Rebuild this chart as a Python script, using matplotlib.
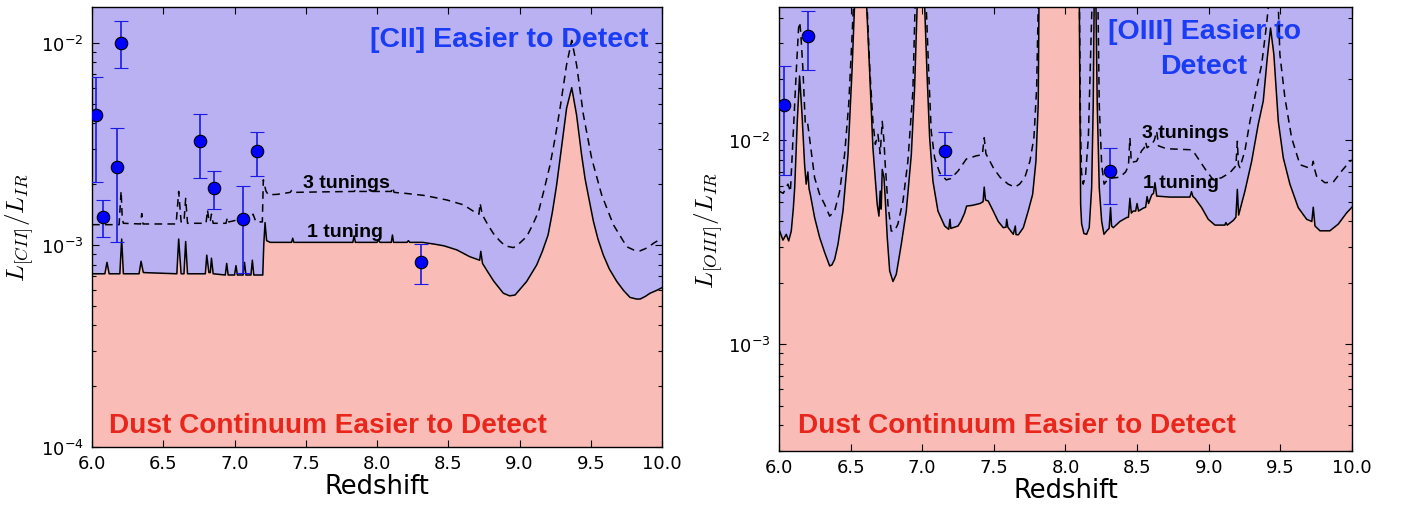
#=========================================================================
# plot.py
#=========================================================================
# Line-to-continuum detectability for [CII] and [OIII] vs redshift.

import matplotlib
matplotlib.use('Agg')
import matplotlib.pyplot as plt
import matplotlib.ticker as ticker
import numpy as np

#-------------------------------------------------------------------------
# Data: [CII]
#-------------------------------------------------------------------------

cii_z1 = [6.00, 6.09, 6.105, 6.12, 6.195, 6.208, 6.22, 6.33, 6.344, 6.36,
          6.595, 6.608, 6.625, 6.645, 6.657, 6.67, 6.795, 6.805, 6.82, 6.83,
          6.838, 6.85, 6.935, 6.945, 6.955, 7.00, 7.01, 7.02, 7.06, 7.07,
          7.08, 7.115, 7.125, 7.135, 7.198, 7.205, 7.214, 7.225, 7.25, 7.40,
          7.408, 7.416, 7.83, 7.839, 7.848, 8.00, 8.01, 8.02, 8.10, 8.108,
          8.116, 8.21, 8.22, 8.23, 8.32, 8.40, 8.47, 8.56, 8.65, 8.70,
          8.72, 8.728, 8.74, 8.78, 8.82, 8.886, 8.93, 8.968, 9.00, 9.05,
          9.12, 9.16, 9.20, 9.23, 9.26, 9.296, 9.33, 9.366, 9.40, 9.435,
          9.46, 9.49, 9.518, 9.55, 9.588, 9.63, 9.682, 9.73, 9.775, 9.82,
          9.846, 9.88, 9.916, 9.96, 10.0]
cii_1tuning = [7.2e-4, 7.2e-4, 8.2e-4, 7.2e-4, 7.2e-4, 1.07e-3, 7.2e-4, 7.2e-4, 8.3e-4, 7.3e-4,
               7.2e-4, 1.07e-3, 7.2e-4, 7.2e-4, 1.04e-3, 7.2e-4, 7.2e-4, 8.9e-4, 7.3e-4, 7.3e-4,
               8.6e-4, 7.2e-4, 7.1e-4, 8.1e-4, 7.1e-4, 7.1e-4, 7.9e-4, 7.1e-4, 7.1e-4, 8.2e-4,
               7.1e-4, 7.1e-4, 8.4e-4, 7.1e-4, 7.1e-4, 1.0e-3, 1.29e-3, 1.05e-3, 1.03e-3, 1.03e-3,
               1.08e-3, 1.03e-3, 1.03e-3, 1.11e-3, 1.03e-3, 1.03e-3, 1.06e-3, 1.03e-3, 1.03e-3, 1.12e-3,
               1.03e-3, 1.03e-3, 1.05e-3, 1.03e-3, 1.03e-3, 1.01e-3, 9.9e-4, 9.45e-4, 8.75e-4, 8.5e-4,
               8.4e-4, 9.3e-4, 8.1e-4, 7.3e-4, 6.6e-4, 5.77e-4, 5.6e-4, 5.65e-4, 6.0e-4, 6.6e-4,
               7.96e-4, 9.3e-4, 1.12e-3, 1.45e-3, 1.98e-3, 3.1e-3, 4.75e-3, 6.0e-3, 4.4e-3, 2.8e-3,
               2.12e-3, 1.65e-3, 1.31e-3, 1.07e-3, 8.9e-4, 7.6e-4, 6.6e-4, 5.95e-4, 5.5e-4, 5.4e-4,
               5.4e-4, 5.55e-4, 5.77e-4, 5.95e-4, 6.15e-4]

cii_z3 = [6.00, 6.19, 6.204, 6.212, 6.22, 6.34, 6.349, 6.358, 6.59, 6.608,
          6.625, 6.645, 6.657, 6.67, 6.80, 6.81, 6.822, 6.83, 6.838, 6.85,
          6.94, 6.95, 6.96, 7.06, 7.07, 7.08, 7.12, 7.13, 7.15, 7.195,
          7.202, 7.22, 7.237, 7.30, 7.39, 7.40, 7.41, 7.60, 7.84, 7.85,
          7.86, 8.10, 8.108, 8.12, 8.20, 8.325, 8.40, 8.489, 8.606, 8.688,
          8.715, 8.723, 8.735, 8.746, 8.78, 8.816, 8.86, 8.898, 8.957, 9.00,
          9.05, 9.09, 9.133, 9.17, 9.214, 9.25, 9.284, 9.33, 9.366, 9.40,
          9.448, 9.506, 9.576, 9.658, 9.752, 9.80, 9.846, 9.90, 9.94, 10.0]
cii_3tunings = [1.26e-3, 1.26e-3, 1.85e-3, 1.35e-3, 1.28e-3, 1.27e-3, 1.43e-3, 1.27e-3, 1.27e-3, 1.84e-3,
                1.3e-3, 1.3e-3, 1.7e-3, 1.28e-3, 1.28e-3, 1.49e-3, 1.3e-3, 1.32e-3, 1.42e-3, 1.28e-3,
                1.28e-3, 1.37e-3, 1.3e-3, 1.35e-3, 1.45e-3, 1.33e-3, 1.35e-3, 1.42e-3, 1.3e-3, 1.3e-3,
                2.1e-3, 1.85e-3, 1.77e-3, 1.78e-3, 1.82e-3, 1.86e-3, 1.82e-3, 1.83e-3, 1.84e-3, 1.88e-3,
                1.84e-3, 1.84e-3, 1.93e-3, 1.82e-3, 1.8e-3, 1.76e-3, 1.72e-3, 1.67e-3, 1.58e-3, 1.45e-3,
                1.42e-3, 1.61e-3, 1.45e-3, 1.38e-3, 1.25e-3, 1.14e-3, 1.05e-3, 9.9e-4, 9.7e-4, 1.02e-3,
                1.1e-3, 1.25e-3, 1.46e-3, 1.85e-3, 2.49e-3, 3.4e-3, 4.75e-3, 7.8e-3, 1.03e-2, 7.8e-3,
                4.4e-3, 2.68e-3, 1.77e-3, 1.26e-3, 9.8e-4, 9.45e-4, 9.35e-4, 9.7e-4, 1.02e-3, 1.08e-3]

cii_obs_z  = [6.028, 6.075, 6.175, 6.20, 6.755, 6.855, 7.059, 7.156, 8.305]
cii_obs    = [4.4e-3, 1.37e-3, 2.42e-3, 1.0e-2, 3.27e-3, 1.91e-3, 1.35e-3, 2.91e-3, 8.24e-4]
cii_obs_lo = [2.04e-3, 1.09e-3, 1.03e-3, 7.5e-3, 2.14e-3, 1.51e-3, 7.3e-4, 2.2e-3, 6.38e-4]
cii_obs_hi = [6.8e-3, 1.67e-3, 3.81e-3, 1.28e-2, 4.43e-3, 2.32e-3, 1.96e-3, 3.62e-3, 1.01e-3]

#-------------------------------------------------------------------------
# Data: [OIII]
#-------------------------------------------------------------------------

oiii_z1 = [6.000, 6.005, 6.028, 6.051, 6.068, 6.086, 6.10, 6.11, 6.128, 6.144,
           6.161, 6.179, 6.19, 6.202, 6.21, 6.219, 6.249, 6.284, 6.319, 6.354,
           6.37, 6.389, 6.412, 6.447, 6.482, 6.51, 6.528, 6.54, 6.57, 6.60,
           6.612, 6.633, 6.656, 6.675, 6.686, 6.698, 6.707, 6.714, 6.721, 6.733,
           6.742, 6.756, 6.773, 6.796, 6.819, 6.854, 6.889, 6.924, 6.947, 6.965,
           6.98, 7.00, 7.017, 7.033, 7.052, 7.075, 7.11, 7.157, 7.185, 7.194,
           7.20, 7.25, 7.27, 7.296, 7.31, 7.35, 7.403, 7.425, 7.433, 7.442,
           7.461, 7.496, 7.531, 7.566, 7.585, 7.59, 7.598, 7.636, 7.65, 7.655,
           7.671, 7.706, 7.74, 7.771, 7.794, 7.81, 7.815, 7.82, 8.092, 8.097,
           8.101, 8.106, 8.113, 8.129, 8.148, 8.166, 8.183, 8.194, 8.20, 8.206,
           8.213, 8.222, 8.236, 8.253, 8.269, 8.288, 8.305, 8.315, 8.322, 8.334,
           8.38, 8.427, 8.44, 8.45, 8.46, 8.473, 8.49, 8.50, 8.51, 8.543,
           8.56, 8.57, 8.58, 8.602, 8.615, 8.625, 8.637, 8.73, 8.869, 8.88,
           8.89, 8.904, 8.951, 8.997, 9.044, 9.113, 9.12, 9.13, 9.172, 9.19,
           9.20, 9.209, 9.253, 9.30, 9.346, 9.381, 9.409, 9.432, 9.455, 9.486,
           9.521, 9.567, 9.625, 9.684, 9.72, 9.73, 9.742, 9.777, 9.846, 9.904,
           9.962, 10.0]
oiii_1tuning = [3.6e-3, 3.59e-3, 3.24e-3, 3.46e-3, 3.21e-3, 3.59e-3, 4.6e-3, 5.86e-3, 1.24e-2, 2.07e-2,
                1.34e-2, 7.63e-3, 6.1e-3, 7.0e-3, 5.8e-3, 5.43e-3, 4.18e-3, 3.34e-3, 2.82e-3, 2.42e-3,
                2.45e-3, 2.61e-3, 3.09e-3, 4.5e-3, 8.5e-3, 2.19e-2, 4.6e-2, 8e-2, 1.2e-1, 8e-2,
                4.6e-2, 2.19e-2, 9.2e-3, 6.1e-3, 4.85e-3, 4.25e-3, 5.64e-3, 4.6e-3, 7.2e-3, 6.6e-3,
                5.2e-3, 3.34e-3, 2.29e-3, 2.03e-3, 2.2e-3, 3.09e-3, 4.5e-3, 8.5e-3, 1.81e-2, 4.6e-2,
                1e-1, 1e-1, 4.6e-2, 2.19e-2, 1.03e-2, 6.3e-3, 4.5e-3, 3.8e-3, 3.66e-3, 4.1e-3,
                3.7e-3, 3.8e-3, 4.0e-3, 4.4e-3, 4.76e-3, 4.8e-3, 4.9e-3, 5.0e-3, 5.9e-3, 5.1e-3,
                5.04e-3, 4.5e-3, 4.0e-3, 3.73e-3, 3.75e-3, 4.1e-3, 3.75e-3, 3.46e-3, 3.8e-3, 3.45e-3,
                3.44e-3, 3.73e-3, 4.5e-3, 5.43e-3, 7.9e-3, 1.5e-2, 4.6e-2, 1e-1, 1e-1, 4.6e-2,
                1.5e-2, 4.85e-3, 3.9e-3, 3.49e-3, 3.46e-3, 3.73e-3, 5.86e-3, 1.5e-2, 4.6e-2, 8e-2,
                4.6e-2, 1.5e-2, 5.86e-3, 4.0e-3, 3.46e-3, 3.6e-3, 3.7e-3, 4.68e-3, 3.8e-3, 3.73e-3,
                4.0e-3, 4.18e-3, 4.2e-3, 5.2e-3, 4.4e-3, 4.5e-3, 4.5e-3, 4.9e-3, 4.5e-3, 4.65e-3,
                4.7e-3, 5.3e-3, 4.9e-3, 5.4e-3, 5.5e-3, 6.2e-3, 5.33e-3, 5.27e-3, 5.27e-3, 5.6e-3,
                5.3e-3, 5.2e-3, 4.68e-3, 4.1e-3, 3.84e-3, 3.84e-3, 3.95e-3, 3.84e-3, 4.05e-3, 4.2e-3,
                5.75e-3, 4.3e-3, 5.64e-3, 7.9e-3, 1.2e-2, 1.56e-2, 2.54e-2, 3.56e-2, 2.64e-2, 1.24e-2,
                8.2e-3, 6.1e-3, 4.68e-3, 4.1e-3, 4.0e-3, 4.7e-3, 3.8e-3, 3.6e-3, 3.6e-3, 3.88e-3,
                4.4e-3, 4.7e-3]

oiii_z3 = [6.000, 6.03, 6.063, 6.08, 6.098, 6.121, 6.137, 6.145, 6.152, 6.168,
           6.184, 6.20, 6.219, 6.249, 6.284, 6.319, 6.354, 6.389, 6.424, 6.458,
           6.487, 6.51, 6.52, 6.535, 6.57, 6.60, 6.615, 6.635, 6.656, 6.673,
           6.691, 6.707, 6.721, 6.733, 6.742, 6.761, 6.784, 6.807, 6.83, 6.866,
           6.90, 6.935, 6.95, 6.97, 7.01, 7.028, 7.045, 7.063, 7.087, 7.122,
           7.168, 7.20, 7.25, 7.308, 7.377, 7.42, 7.433, 7.445, 7.496, 7.543,
           7.60, 7.647, 7.68, 7.717, 7.752, 7.78, 7.799, 7.81, 7.82, 8.09,
           8.098, 8.105, 8.112, 8.124, 8.14, 8.16, 8.18, 8.19, 8.225, 8.236,
           8.253, 8.27, 8.30, 8.38, 8.42, 8.44, 8.45, 8.46, 8.497, 8.532,
           8.55, 8.56, 8.57, 8.602, 8.62, 8.637, 8.65, 8.706, 8.869, 8.89,
           8.939, 8.985, 9.032, 9.09, 9.148, 9.19, 9.20, 9.208, 9.218, 9.253,
           9.288, 9.335, 9.37, 9.404, 9.42, 9.45, 9.485, 9.497, 9.532, 9.579,
           9.637, 9.695, 9.72, 9.73, 9.74, 9.753, 9.811, 9.87, 9.928, 9.986,
           10.0]
oiii_3tunings = [5.64e-3, 5.5e-3, 6.1e-3, 5.6e-3, 1.03e-2, 2.19e-2, 3.56e-2, 3.8e-2, 3.4e-2, 2.19e-2,
                 1.2e-2, 1.22e-2, 9.56e-3, 6.56e-3, 5.43e-3, 4.85e-3, 4.25e-3, 4.5e-3, 5.64e-3, 8.5e-3,
                 1.5e-2, 3.2e-2, 4.6e-2, 8e-2, 1.3e-1, 8e-2, 4.6e-2, 2.19e-2, 1.24e-2, 9.56e-3,
                 1.07e-2, 8.6e-3, 1.24e-2, 1.0e-2, 7.6e-3, 4.85e-3, 3.59e-3, 3.59e-3, 3.88e-3, 5.04e-3,
                 7.9e-3, 1.74e-2, 4.6e-2, 1.1e-1, 1.1e-1, 4.6e-2, 2.19e-2, 1.11e-2, 8.2e-3, 6.94e-3,
                 6.4e-3, 6.5e-3, 7.07e-3, 8.1e-3, 8.4e-3, 8.5e-3, 1.03e-2, 8.6e-3, 7.35e-3, 6.6e-3,
                 6.1e-3, 5.9e-3, 6.1e-3, 6.6e-3, 7.9e-3, 1.03e-2, 1.81e-2, 4.6e-2, 1e-1, 1e-1,
                 4.6e-2, 1.2e-2, 7e-3, 6.1e-3, 6.7e-3, 1.03e-2, 3.5e-2, 6e-2, 6e-2, 1.5e-2,
                 7.6e-3, 6.1e-3, 6.5e-3, 6.6e-3, 7.0e-3, 7.5e-3, 1.03e-2, 7.8e-3, 7.9e-3, 8.9e-3,
                 9.2e-3, 9.8e-3, 9.2e-3, 9.56e-3, 1.0e-2, 1.11e-2, 9.4e-3, 9.1e-3, 9.0e-3, 8.9e-3,
                 7.9e-3, 7.07e-3, 6.4e-3, 6.56e-3, 6.94e-3, 7.5e-3, 9.9e-3, 7.6e-3, 7.35e-3, 8.9e-3,
                 1.24e-2, 1.81e-2, 2.36e-2, 3.7e-2, 4.8e-2, 5.5e-2, 4.8e-2, 2.64e-2, 1.62e-2, 1.03e-2,
                 7.6e-3, 7.35e-3, 7.4e-3, 7.9e-3, 7.2e-3, 6.68e-3, 6.2e-3, 6.25e-3, 7.07e-3, 7.9e-3,
                 8.0e-3]

oiii_obs_z  = [6.034, 6.203, 7.161, 8.313]
oiii_obs    = [1.5e-2, 3.27e-2, 8.9e-3, 7.05e-3]
oiii_obs_lo = [6.74e-3, 2.22e-2, 6.76e-3, 4.87e-3]
oiii_obs_hi = [2.31e-2, 4.3e-2, 1.1e-2, 9.2e-3]

#-------------------------------------------------------------------------
# Configure matplotlib
#-------------------------------------------------------------------------

plt.rcParams['font.family'] = 'DejaVu Sans'
plt.rcParams['xtick.direction'] = 'in'
plt.rcParams['ytick.direction'] = 'in'

lavender = '#bab1f3'
salmon   = '#f9bcb6'
txt_blue = '#1a3cf5'
txt_red  = '#e8261b'
bold     = dict( family='Liberation Sans', weight='bold' )

fig = plt.figure( figsize=(14.03, 5.06), dpi=100 )
ax1 = fig.add_axes( [0.0656, 0.1146, 0.4063, 0.8690] )
ax2 = fig.add_axes( [0.5552, 0.1073, 0.4084, 0.8763] )

#-------------------------------------------------------------------------
# Helper to draw one panel
#-------------------------------------------------------------------------

def draw_panel( ax, z1, y1, z3, y3, oz, oy, olo, ohi, ylim ):
  ax.set_facecolor( lavender )
  ax.set_yscale( 'log' )
  ax.fill_between( z1, ylim[0]*0.5, y1, color=salmon, lw=0, zorder=1 )
  ax.plot( z1, y1, color='k', lw=1.1, zorder=3 )
  ax.plot( z3, y3, color='k', lw=1.1, ls=(0, (5, 3.5)), zorder=3 )
  oy  = np.array( oy )
  err = [ oy - np.array( olo ), np.array( ohi ) - oy ]
  ax.errorbar( oz, oy, yerr=err, fmt='o', ms=9, mfc='#0000ff', mec='k',
               mew=0.8, ecolor='#1a1ae6', elinewidth=1.2, capsize=4.8,
               capthick=1.2, zorder=4 )
  ax.set_xlim( 6.0, 10.0 )
  ax.set_ylim( *ylim )
  ax.set_xticks( np.arange( 6.0, 10.01, 0.5 ) )
  ax.xaxis.set_major_formatter( ticker.FormatStrFormatter( '%.1f' ) )
  ax.xaxis.set_minor_locator( ticker.NullLocator() )
  ax.yaxis.set_major_locator( ticker.LogLocator( base=10, numticks=10 ) )
  ax.yaxis.set_minor_locator( ticker.LogLocator( base=10, subs=np.arange(2, 10), numticks=20 ) )
  ax.yaxis.set_major_formatter( ticker.FuncFormatter(
      lambda v, p: r'$\mathregular{10^{%d}}$' % round( np.log10( v ) ) ) )
  ax.yaxis.set_minor_formatter( ticker.NullFormatter() )
  ax.tick_params( which='both', top=True, right=True, width=0.8 )
  ax.tick_params( which='major', length=5, labelsize=13 )
  ax.tick_params( which='minor', length=3 )
  ax.tick_params( axis='x', pad=5 )
  ax.tick_params( axis='y', pad=6 )
  for s in ax.spines.values():
    s.set_linewidth( 1.0 )
  ax.set_xlabel( 'Redshift', fontsize=18.5, labelpad=1 )

draw_panel( ax1, cii_z1, cii_1tuning, cii_z3, cii_3tunings,
            cii_obs_z, cii_obs, cii_obs_lo, cii_obs_hi, (1e-4, 1.5e-2) )
draw_panel( ax2, oiii_z1, oiii_1tuning, oiii_z3, oiii_3tunings,
            oiii_obs_z, oiii_obs, oiii_obs_lo, oiii_obs_hi, (3e-4, 4.5e-2) )

ax1.set_ylabel( r'$L_{[CII]}/L_{IR}$', fontsize=18, math_fontfamily='cm' )
ax2.set_ylabel( r'$L_{[OIII]}/L_{IR}$', fontsize=18, math_fontfamily='cm' )
ax1.yaxis.set_label_coords( -0.098, 0.5 )
ax2.yaxis.set_label_coords( -0.094, 0.5 )

#-------------------------------------------------------------------------
# Annotations
#-------------------------------------------------------------------------

ax1.text( 0.732, 0.913, '[CII] Easier to Detect', color=txt_blue, fontsize=20.5,
          ha='center', va='baseline', transform=ax1.transAxes, zorder=2, **bold )
ax1.text( 0.414, 0.034, 'Dust Continuum Easier to Detect', color=txt_red, fontsize=20.2,
          ha='center', va='baseline', transform=ax1.transAxes, zorder=2, **bold )
ax1.text( 0.446, 0.591, '3 tunings', fontsize=14, ha='center', va='baseline',
          transform=ax1.transAxes, zorder=2, **bold )
ax1.text( 0.444, 0.481, '1 tuning', fontsize=14, ha='center', va='baseline',
          transform=ax1.transAxes, zorder=2, **bold )

ax2.text( 0.742, 0.930, '[OIII] Easier to', color=txt_blue, fontsize=20.5,
          ha='center', va='baseline', transform=ax2.transAxes, zorder=2, **bold )
ax2.text( 0.742, 0.852, 'Detect', color=txt_blue, fontsize=20.5,
          ha='center', va='baseline', transform=ax2.transAxes, zorder=2, **bold )
ax2.text( 0.415, 0.043, 'Dust Continuum Easier to Detect', color=txt_red, fontsize=20.2,
          ha='center', va='baseline', transform=ax2.transAxes, zorder=2, **bold )
ax2.text( 0.710, 0.708, '3 tunings', fontsize=14, ha='center', va='baseline',
          transform=ax2.transAxes, zorder=2, **bold )
ax2.text( 0.7025, 0.595, '1 tuning', fontsize=14, ha='center', va='baseline',
          transform=ax2.transAxes, zorder=2, **bold )

#-------------------------------------------------------------------------
# Save
#-------------------------------------------------------------------------

fig.savefig( 'out.png', dpi=100 )
